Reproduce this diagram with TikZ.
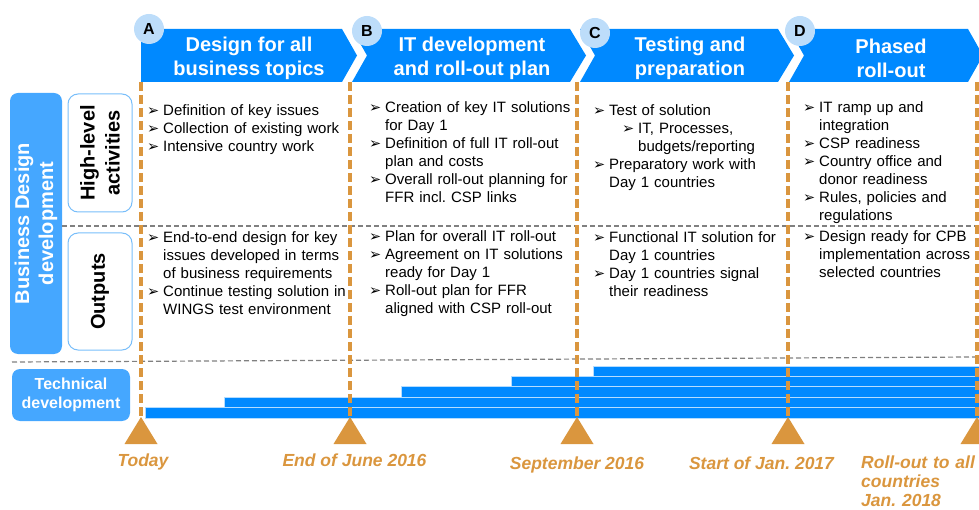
\documentclass[tikz,border=0pt]{standalone}
\usepackage{fontspec}
\setmainfont{Liberation Sans}
\newfontfamily\dejavu{DejaVu Sans}
\frenchspacing

\definecolor{chevblue}{RGB}{0,137,255}
\definecolor{sideblue}{RGB}{69,167,255}
\definecolor{circblue}{RGB}{189,221,250}
\definecolor{boxline}{RGB}{120,190,250}
\definecolor{barline}{RGB}{180,220,255}
\definecolor{mileorange}{RGB}{218,150,62}

\tikzset{
  phaselabel/.style={text=white, font=\bfseries\fontsize{20}{24}\selectfont, align=center},
  letter/.style={circle, fill=circblue, minimum size=30pt, inner sep=0pt, font=\bfseries\fontsize{16}{16}\selectfont},
  sidebox/.style={fill=sideblue, rounded corners=8pt, text=white, align=center, inner sep=0pt},
  rowbox/.style={draw=boxline, line width=1pt, fill=white, rounded corners=10pt, align=center, inner sep=0pt, font=\bfseries\fontsize{20}{25}\selectfont},
  items/.style={anchor=base west, text width=225pt, align=left, inner sep=0pt, font=\fontsize{15}{18}\selectfont},
  milestone/.style={draw=mileorange, line width=3.5pt, dash pattern=on 9pt off 4pt},
  datelabel/.style={text=mileorange, inner sep=0pt, font=\bfseries\itshape\fontsize{17.5}{20}\selectfont},
  divider/.style={draw=gray, line width=1.2pt, dash pattern=on 5pt off 3pt},
  bar/.style={fill=chevblue, draw=barline, line width=0.8pt}
}

\newcommand\bl{\makebox[16pt][l]{\dejavu\fontsize{14.5}{14.5}\selectfont ➢}}
\newcommand\cont{\hspace*{16pt}}

\begin{document}
\begin{tikzpicture}[x=1pt, y=-1pt]
    \useasboundingbox (0,0) rectangle (979,510);

    % phase chevrons
    \fill[chevblue] (141,29) -- (342,29) -- (357,55.5) -- (342,82) -- (141,82) -- cycle;
    \fill[chevblue] (352,29) -- (570,29) -- (586,55.5) -- (570,82) -- (352,82) -- (367,55.5) -- cycle;
    \fill[chevblue] (580,29) -- (778,29) -- (794,55.5) -- (778,82) -- (580,82) -- (595,55.5) -- cycle;
    \fill[chevblue] (789,29) -- (968,29) -- (983,55.5) -- (968,82) -- (789,82) -- (804,55.5) -- cycle;

    \node[phaselabel] (phA) at (249,58.5) {Design for all\\business topics};
    \node[phaselabel] (phB) at (472,58.5) {IT development\\and roll-out plan};
    \node[phaselabel] (phC) at (690,58.5) {Testing and\\preparation};
    \node[phaselabel] (phD) at (891,58.5) {Phased\\roll-out};

    \node[letter] (ltA) at (149,29) {A};
    \node[letter] (ltB) at (367,31) {B};
    \node[letter] (ltC) at (595,33) {C};
    \node[letter] (ltD) at (800,31) {D};

    % row headers
    \node[sidebox, rotate=90, minimum width=261pt, minimum height=52pt,
          font=\bfseries\fontsize{20}{24}\selectfont] (bizdev) at (36,223.5) {Business Design\\development};
    \node[rowbox, rotate=90, minimum width=118pt, minimum height=64pt] (hlrow) at (100,153) {High-level\\activities};
    \node[rowbox, rotate=90, minimum width=117pt, minimum height=64pt] (outrow) at (100,291.5) {Outputs};
    \node[sidebox, minimum width=118pt, minimum height=52pt,
          font=\bfseries\fontsize{16}{19}\selectfont] (techdev) at (71,395) {Technical\\development};

    % dividers
    \draw[divider] (62,226) -- (975,226);
    \draw[divider] (12,362) -- (975,357);

    % activities and outputs
    \node[items] (hlA) at (147,115.5) {\bl Definition of key issues\\
        \bl Collection of existing work\\
        \bl Intensive country work};
    \node[items] (outA) at (147,242.5) {\bl End-to-end design for key\\
        \cont issues developed in terms\\
        \cont of business requirements\\
        \bl Continue testing solution in\\
        \cont WINGS test environment};

    \node[items] (hlB) at (369,112.5) {\bl Creation of key IT solutions\\
        \cont for Day 1\\
        \bl Definition of full IT roll-out\\
        \cont plan and costs\\
        \bl Overall roll-out planning for\\
        \cont FFR incl. CSP links};
    \node[items] (outB) at (369,241.5) {\bl Plan for overall IT roll-out\\
        \bl Agreement on IT solutions\\
        \cont ready for Day 1\\
        \bl Roll-out plan for FFR\\
        \cont aligned with CSP roll-out};

    \node[items] (hlC) at (593,115.5) {\bl Test of solution\\
        \hspace*{29pt}\bl IT, Processes,\\
        \hspace*{45pt}budgets/reporting\\
        \bl Preparatory work with\\
        \cont Day 1 countries};
    \node[items] (outC) at (593,242.5) {\bl Functional IT solution for\\
        \cont Day 1 countries\\
        \bl Day 1 countries signal\\
        \cont their readiness};

    \node[items] (hlD) at (803,112.5) {\bl IT ramp up and\\
        \cont integration\\
        \bl CSP readiness\\
        \bl Country office and\\
        \cont donor readiness\\
        \bl Rules, policies and\\
        \cont regulations};
    \node[items] (outD) at (803,241.5) {\bl Design ready for CPB\\
        \cont implementation across\\
        \cont selected countries};

    % technical development bars
    \draw[bar] (593,366) rectangle (985,376);
    \draw[bar] (511,376) rectangle (985,386.5);
    \draw[bar] (401,386.5) rectangle (985,397);
    \draw[bar] (224,397) rectangle (985,407.5);
    \draw[bar] (145,407.5) rectangle (985,418);

    % milestones
    \coordinate (top1) at (141,82);
    \coordinate (top2) at (350,82);
    \coordinate (top3) at (577,82);
    \coordinate (top4) at (788,82);
    \coordinate (top5) at (977,82);
    \coordinate (tip1) at (141,417);
    \coordinate (tip2) at (350,417);
    \coordinate (tip3) at (577,417);
    \coordinate (tip4) at (788,417);
    \coordinate (tip5) at (977,417);

    \draw[milestone] (top1) -- (tip1);
    \draw[milestone] (top2) -- (tip2);
    \draw[milestone] (top3) -- (tip3);
    \draw[milestone] (top4) -- (tip4);
    \draw[milestone] (top5) -- (tip5);

    \fill[mileorange] (tip1) -- ++(16.5,27) -- ++(-33,0) -- cycle;
    \fill[mileorange] (tip2) -- ++(16.5,27) -- ++(-33,0) -- cycle;
    \fill[mileorange] (tip3) -- ++(16.5,27) -- ++(-33,0) -- cycle;
    \fill[mileorange] (tip4) -- ++(16.5,27) -- ++(-33,0) -- cycle;
    \fill[mileorange] (tip5) -- ++(16.5,27) -- ++(-33,0) -- cycle;

    \node[datelabel, anchor=base] (today) at (143,466) {Today};
    \node[datelabel, anchor=base] (june) at (354.5,466) {End of June 2016};
    \node[datelabel, anchor=base] (sept) at (577,469) {September 2016};
    \node[datelabel, anchor=base] (jan17) at (761.5,469) {Start of Jan. 2017};
    \node[datelabel, anchor=base west, text width=130pt, align=left,
          font=\bfseries\itshape\fontsize{17.5}{19}\selectfont] (jan18) at (861,468) {Roll-out to all\\countries\\Jan. 2018};
\end{tikzpicture}
\end{document}
